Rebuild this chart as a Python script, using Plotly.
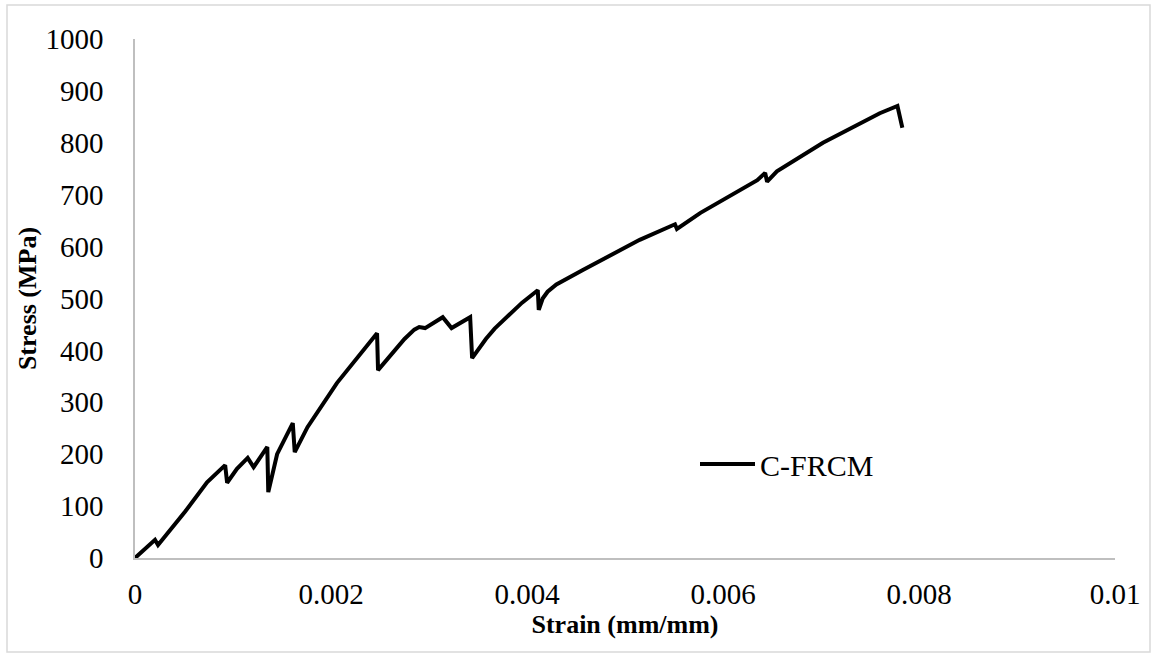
import plotly.graph_objects as go

# Stress-strain response of the C-FRCM coupon
strain = [0, 0.000204, 0.000235, 0.00051, 0.000735, 0.00092, 0.00094, 0.00104,
          0.00115, 0.00121, 0.00135, 0.00136, 0.00145, 0.00161, 0.00163, 0.00176,
          0.00206, 0.00230, 0.00247, 0.00248, 0.00255, 0.00263, 0.00275, 0.00285,
          0.00290, 0.00296, 0.00314, 0.00323, 0.00342, 0.00344, 0.00350, 0.00358,
          0.00367, 0.00380, 0.00395, 0.00411, 0.00412, 0.00416, 0.00421, 0.00430,
          0.00445, 0.00457, 0.00515, 0.00531, 0.00551, 0.00553, 0.00577, 0.00635,
          0.00643, 0.00645, 0.00655, 0.00702, 0.00760, 0.00778, 0.00783]
stress = [0, 35, 25, 89, 146, 179, 145, 172,
          193, 175, 214, 127, 200, 260, 204, 252,
          337, 395, 433, 362, 378, 397, 422, 440,
          445, 443, 464, 443, 464, 385, 402, 422,
          442, 466, 492, 516, 478, 500, 513, 527,
          543, 555, 613, 626, 643, 634, 665, 728,
          742, 725, 745, 800, 857, 871, 829]

x_ticks = [0, 0.002, 0.004, 0.006, 0.008, 0.01]
x_tick_text = ["0", "0.002", "0.004", "0.006", "0.008", "0.01"]
y_ticks = [0, 100, 200, 300, 400, 500, 600, 700, 800, 900, 1000]

FONT = "Liberation Serif, Times New Roman, serif"

fig = go.Figure()
fig.add_trace(go.Scatter(
    x=strain, y=stress, mode="lines", name="C-FRCM",
    line=dict(color="black", width=4),
))

W, H = 1158, 664
L, R, T, B = 135, 43, 39, 106
pw, ph = W - L - R, H - T - B

def px(x):
    return (x - L) / pw

def py(y):
    return (H - B - y) / ph

fig.update_layout(
    width=W, height=H,
    margin=dict(l=L, r=R, t=T, b=B),
    paper_bgcolor="white", plot_bgcolor="white",
    font=dict(family=FONT, color="black", size=29),
    showlegend=True,
    legend=dict(x=px(695), y=py(464), xanchor="left", yanchor="middle",
                bgcolor="rgba(0,0,0,0)", itemwidth=55,
                font=dict(family=FONT, size=30, color="black")),
    xaxis=dict(range=[0, 0.01], tickvals=x_ticks, ticktext=x_tick_text,
               showgrid=False, zeroline=False, showline=True,
               linecolor="#bfbfbf", linewidth=1.5, ticks="",
               ticklabelstandoff=9,
               title=dict(text="<b>Strain (mm/mm)</b>", standoff=4,
                          font=dict(family=FONT, size=26, color="black"))),
    yaxis=dict(range=[0, 1000], tickvals=y_ticks,
               showgrid=False, zeroline=False, showline=True,
               linecolor="#bfbfbf", linewidth=1.5, ticks="",
               ticklabelstandoff=24,
               title=dict(text="<b>Stress (MPa)</b>", standoff=1,
                          font=dict(family=FONT, size=26, color="black"))),
    shapes=[dict(type="rect", xref="paper", yref="paper",
                 x0=px(7), x1=px(1150), y0=py(652), y1=py(5),
                 line=dict(color="#d9d9d9", width=1.5), fillcolor="rgba(0,0,0,0)",
                 layer="below")],
)

fig.write_html("out.html")
